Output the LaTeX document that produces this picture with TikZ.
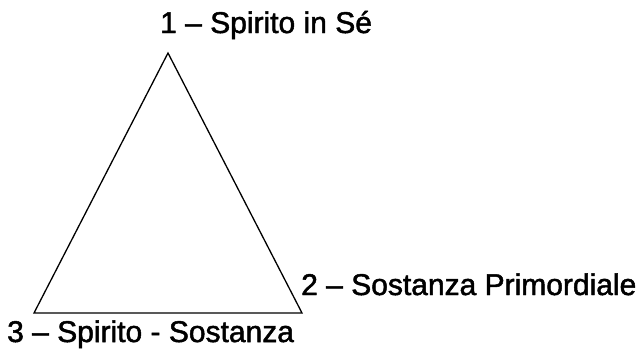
\documentclass[tikz,border=0pt]{standalone}
\usepackage{fontspec}
\setmainfont{Liberation Sans}[BoldFont=Liberation Sans,BoldFeatures={FakeBold=1.6}]
\begin{document}
\begin{tikzpicture}[x=1pt,y=-1pt,
  lbl/.style={inner sep=0pt,anchor=base west,font=\fontsize{30}{35}\selectfont\bfseries},
  edge/.style={draw=black,line width=1.3pt,line join=miter}]
\useasboundingbox (0,0) rectangle (639,354);
\coordinate (t) at (168,53);
\coordinate (r) at (302,313);
\coordinate (l) at (34,313);
\draw[edge] (t) -- (r) -- (l) -- cycle;
\node[lbl] (n1) at (160,33) {1 – Spirito in Sé};
\node[lbl] (n2) at (301,295) {2 – Sostanza Primordiale};
\node[lbl] (n3) at (7,342) {3 – Spirito - Sostanza};
\end{tikzpicture}
\end{document}
